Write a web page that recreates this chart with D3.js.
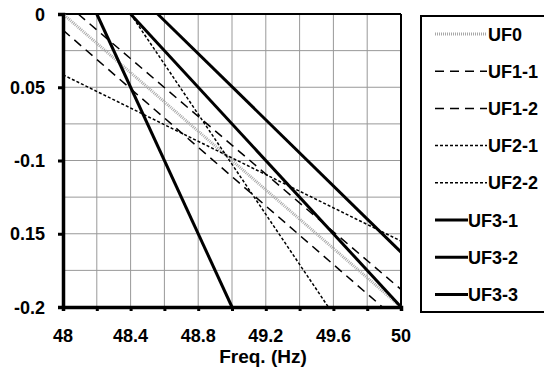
<!DOCTYPE html>
<html>
<head>
<meta charset="utf-8">
<script src="https://cdn.jsdelivr.net/npm/d3@7"></script>
<style>
  body { margin: 0; background: #fff; }
  svg text { font-family: "Liberation Sans", Arial, sans-serif; font-weight: bold; }
</style>
</head>
<body>
<div id="chart"></div>
<script>
// series names and end points [freq, value]
var seriesNames = ["UF0", "UF1-1", "UF1-2", "UF2-1", "UF2-2", "UF3-1", "UF3-2", "UF3-3"];
var uf0  = [[48, 0], [50, -0.2]];
var uf11 = [[48.09, 0], [50, -0.188]];
var uf12 = [[48, -0.011], [49.89, -0.2]];
var uf21 = [[48, -0.0415], [50, -0.155]];
var uf22 = [[48.4, 0], [49.57, -0.2]];
var uf31 = [[48.2, 0], [49.0, -0.2]];
var uf32 = [[48.4, 0], [50, -0.2]];
var uf33 = [[48.56, 0], [50, -0.1625]];
var seriesData = [uf0, uf11, uf12, uf21, uf22, uf31, uf32, uf33];

var xTicks = [48, 48.4, 48.8, 49.2, 49.6, 50];
var yTicks = [0, -0.05, -0.1, -0.15, -0.2];
var yTickLabels = ["0", "0.05", "-0.1", "0.15", "-0.2"];

// line styles per series
var styles = [
  {stroke: "#a8a8a8", width: 3, dash: "1,1"},
  {stroke: "#000", width: 1.5, dash: "9,6"},
  {stroke: "#000", width: 1.5, dash: "9,6"},
  {stroke: "#000", width: 1.5, dash: "3,2"},
  {stroke: "#000", width: 1.5, dash: "3,2"},
  {stroke: "#000", width: 3, dash: null},
  {stroke: "#000", width: 3, dash: null},
  {stroke: "#000", width: 3, dash: null}
];

var width = 544, height = 373;
var svg = d3.select("#chart").append("svg")
  .attr("width", width).attr("height", height);

var x = d3.scaleLinear().domain([48, 50]).range([63, 401]);
var y = d3.scaleLinear().domain([0, -0.2]).range([14, 307]);

// grid
svg.append("g").selectAll("line.vg")
  .data(d3.range(48.2, 49.95, 0.2))
  .enter().append("line")
  .attr("x1", function(d){ return x(d); }).attr("x2", function(d){ return x(d); })
  .attr("y1", y(0)).attr("y2", y(-0.2))
  .style("stroke", "#999").style("stroke-width", 1);
svg.append("g").selectAll("line.hg")
  .data(d3.range(1, 8).map(function(i){ return -0.025 * i; }))
  .enter().append("line")
  .attr("x1", x(48)).attr("x2", x(50))
  .attr("y1", function(d){ return y(d); }).attr("y2", function(d){ return y(d); })
  .style("stroke", "#999").style("stroke-width", 1);

// top and right frame
svg.append("line").attr("x1", x(48)).attr("x2", x(50)).attr("y1", y(0)).attr("y2", y(0))
  .style("stroke", "#000").style("stroke-width", 2);
svg.append("line").attr("x1", x(50)).attr("x2", x(50)).attr("y1", y(0)).attr("y2", y(-0.2))
  .style("stroke", "#000").style("stroke-width", 2);

// series
var line = d3.line().x(function(d){ return x(d[0]); }).y(function(d){ return y(d[1]); });
svg.append("g").selectAll("path")
  .data(seriesData)
  .enter().append("path")
  .attr("d", line)
  .style("fill", "none")
  .style("stroke", function(d, i){ return styles[i].stroke; })
  .style("stroke-width", function(d, i){ return styles[i].width; })
  .style("stroke-dasharray", function(d, i){ return styles[i].dash; });

// axes
var xAxis = d3.axisBottom(x).tickValues(d3.range(48, 50.05, 0.2)).tickSize(4).tickFormat("");
var gx = svg.append("g").attr("transform", "translate(0," + y(-0.2) + ")").call(xAxis);
gx.select(".domain").style("stroke-width", 3.5);
gx.selectAll(".tick line").style("stroke-width", 3);

var yAxis = d3.axisLeft(y).tickValues(yTicks).tickSize(5).tickFormat("");
var gy = svg.append("g").attr("transform", "translate(" + x(48) + ",0)").call(yAxis);
gy.select(".domain").style("stroke-width", 3.5);
gy.selectAll(".tick line").style("stroke-width", 3);

svg.append("g").selectAll("text")
  .data(xTicks)
  .enter().append("text")
  .attr("x", function(d){ return x(d); })
  .attr("y", 342)
  .attr("text-anchor", "middle")
  .style("font-size", "18px")
  .text(function(d){ return d3.format("")(d); });

svg.append("g").selectAll("text")
  .data(yTicks)
  .enter().append("text")
  .attr("x", 45)
  .attr("y", function(d){ return y(d) + 6.5; })
  .attr("text-anchor", "end")
  .style("font-size", "18px")
  .text(function(d, i){ return yTickLabels[i]; });

svg.append("text")
  .attr("x", 263).attr("y", 363)
  .attr("text-anchor", "middle")
  .style("font-size", "19px")
  .text("Freq. (Hz)");

// legend
var legend = svg.append("g");
legend.append("rect")
  .attr("x", 421).attr("y", 16).attr("width", 130).attr("height", 296)
  .style("fill", "#fff").style("stroke", "#000").style("stroke-width", 2);
var rows = legend.selectAll("g.row")
  .data(seriesNames)
  .enter().append("g")
  .attr("transform", function(d, i){ return "translate(0," + (34 + i * 37.2) + ")"; });
rows.append("line")
  .attr("x1", 435)
  .attr("x2", function(d, i){ return i >= 5 ? 468 : 487; })
  .attr("y1", 0).attr("y2", 0)
  .style("stroke", function(d, i){ return styles[i].stroke; })
  .style("stroke-width", function(d, i){ return styles[i].width; })
  .style("stroke-dasharray", function(d, i){ return styles[i].dash; });
rows.append("text")
  .attr("x", function(d, i){ return i >= 5 ? 468 : 488; })
  .attr("y", 6.5)
  .style("font-size", "18px")
  .text(function(d){ return d; });
</script>
</body>
</html>
